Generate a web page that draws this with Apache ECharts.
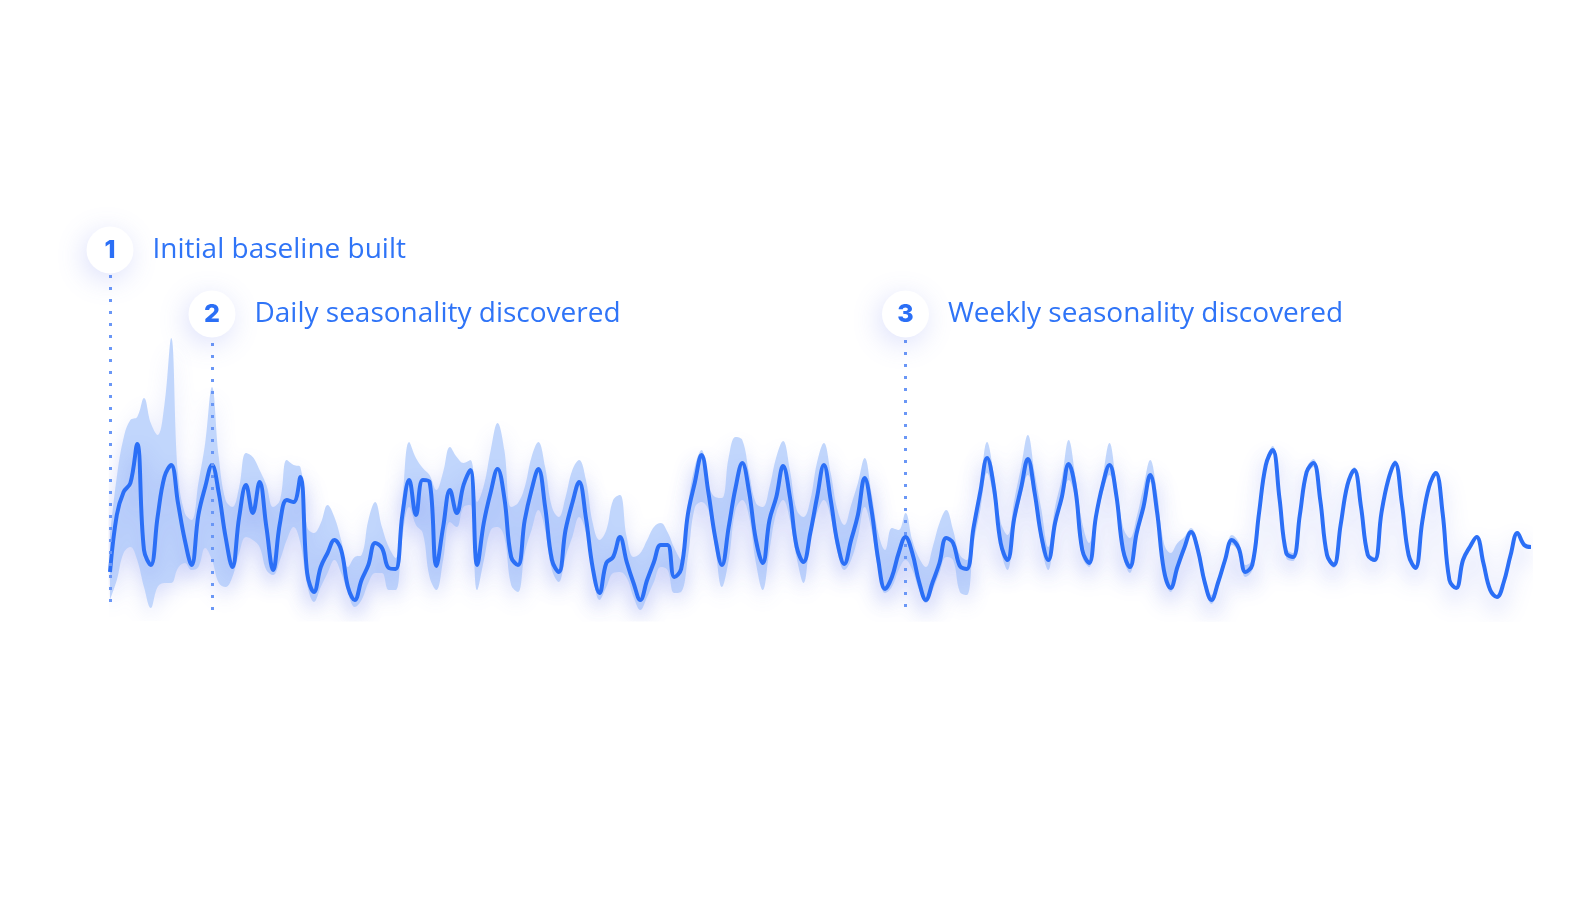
<!DOCTYPE html>
<html>
<head>
<meta charset="utf-8">
<style>
  html, body { margin: 0; padding: 0; background: #ffffff; }
  #chart { width: 1590px; height: 920px; }
</style>
<script src="https://cdn.jsdelivr.net/npm/echarts@6/dist/echarts.min.js"></script>
</head>
<body>
<div id="chart"></div>
<script>
// Observed metric, sampled every 4 hours (6 samples per day)
const observed = [
  48,105,128,137,176,70, 55,103,143,155,117,80, 55,105,133,155,127,83, 53,103,135,107,138,93, 50,97,120,118,143,47, 28,53,67,80,70,33, 20,40,55,77,72,52,
  51,105,140,105,140,138, 54,93,130,107,135,150, 55,98,128,151,122,63, 55,100,130,151,113,60, 48,90,117,138,102,52, 27,57,63,83,58,37, 20,40,58,75,75,43,
  51,106,137,165,128,83, 55,93,132,157,128,80, 57,100,123,154,123,73, 58,87,123,155,120,77, 56,80,105,142,110,60, 31,43,67,83,67,38, 20,38,57,82,77,
  54,51,92,128,162,133, 77,60,102,132,161,127, 83,60,97,123,156,130, 70,57,103,135,155,125, 70,53,87,113,145,108, 50,32,53,72,88,70, 38,20,38,60,80,
  72,48,55,107,155,170, 122,67,63,105,148,157, 120,65,55,95,135,150, 113,65,60,107,140,157, 117,65,52,98,133,147, 107,40,32,60,73,83, 57,30,23,38,65,87, 75,73
];
// Upper edge of the expected band
const bandHigh = [
  85,143,182,200,203,222, 197,185,215,282,147,107, 100,137,177,233,163,120, 113,133,167,163,150,135, 113,120,160,155,153,93, 87,97,115,103,80,53, 63,65,100,118,93,73,
  62,120,178,162,152,145, 130,148,173,163,157,160, 118,135,170,197,170,113, 117,133,163,178,153,113, 103,123,150,160,140,97, 80,90,120,125,83,63, 67,80,93,97,88,72,
  60,115,153,170,137,123, 122,163,183,180,147,117, 113,133,163,179,150,110, 103,120,158,177,147,110, 95,115,137,162,127,87, 70,92,90,107,80,62, 53,73,97,110,90,
  65,60,100,135,178,145, 98,85,120,153,185,147, 110,73,113,142,180,143, 97,77,110,143,177,137, 93,82,103,133,160,127, 77,67,77,83,92,77, 45,25,43,65,85,
  78,55,60,112,160,174, 128,72,67,109,152,161, 125,69,58,98,138,153, 116,68,63,109,142,160, 119,67,53,99,134,149, 108,40,32,60,73,83, 57,30,23,38,65,87, 75,73
];
// Lower edge of the expected band
const bandLow = [
  20,40,67,73,60,33, 12,33,37,37,52,57, 50,53,72,60,37,33, 43,67,83,80,73,50, 45,60,80,93,77,35, 18,33,47,60,47,27, 13,20,37,47,47,30,
  30,83,113,95,87,43, 30,60,98,93,113,115, 30,60,90,93,83,35, 28,67,90,110,90,50, 38,63,83,103,87,47, 20,33,47,48,42,23, 10,23,38,53,50,27,
  28,63,112,118,110,73, 33,60,110,120,103,57, 30,70,107,120,100,62, 37,80,107,120,103,68, 50,60,83,113,90,50, 27,33,50,60,50,30, 17,30,47,63,60,
  28,25,75,110,147,120, 70,50,92,123,145,120, 73,50,92,117,140,120, 63,53,95,127,145,117, 63,47,80,108,138,103, 45,28,48,67,85,65, 33,16,33,55,75,
  68,43,50,102,150,166, 117,62,59,101,144,153, 116,61,52,92,132,147, 111,63,58,105,138,155, 115,63,51,97,132,146, 106,40,32,60,73,83, 57,30,23,38,65,87, 75,73
];
// Annotated milestones: sample index, label
const milestoneIndex = [0, 15, 117];
const milestoneNumber = ['1', '2', '3'];
const milestoneText = ['Initial baseline built', 'Daily seasonality discovered', 'Weekly seasonality discovered'];
const milestoneLevel = [370, 306, 306];
const milestoneLineTop = [345, 277, 280];
const milestoneLineBottom = 10;

const categories = observed.map((_, i) => 'Day ' + (Math.floor(i / 6) + 1) + ' ' + String((i % 6) * 4).padStart(2, '0') + ':00');
const bandSpan = bandHigh.map((h, i) => h - bandLow[i]);

const BLUE = '#2b6ff6';
const TEXT_BLUE = '#2f74f7';

const chart = echarts.init(document.getElementById('chart'), null, { renderer: 'canvas' });

const circlePoints = milestoneIndex.map((idx, k) => ({
  coord: [idx, milestoneLevel[k]],
  symbol: 'circle',
  symbolSize: 47,
  itemStyle: {
    color: '#ffffff',
    shadowColor: 'rgba(90,110,235,0.22)',
    shadowBlur: 28,
    shadowOffsetX: -3,
    shadowOffsetY: 6
  },
  label: {
    show: true,
    position: 'inside',
    formatter: milestoneNumber[k],
    fontFamily: 'Inter, "Open Sans", sans-serif',
    fontWeight: 800,
    fontSize: 25,
    color: BLUE
  }
}));
const textPoints = milestoneIndex.map((idx, k) => ({
  coord: [idx, milestoneLevel[k]],
  symbol: 'circle',
  symbolSize: 47,
  itemStyle: { color: 'rgba(0,0,0,0)' },
  label: {
    show: true,
    position: 'right',
    distance: 19,
    formatter: milestoneText[k],
    fontFamily: '"Open Sans", sans-serif',
    fontSize: 28,
    color: TEXT_BLUE
  }
}));
const dottedLines = milestoneIndex.map((idx, k) => [
  { coord: [idx, milestoneLineTop[k]] },
  { coord: [idx, milestoneLineBottom] }
]);

chart.setOption({
  animation: false,
  backgroundColor: '#ffffff',
  grid: { left: 110, right: 59, top: 0, bottom: 300 },
  xAxis: {
    type: 'category',
    data: categories,
    boundaryGap: false,
    show: false
  },
  yAxis: {
    type: 'value',
    min: 0,
    max: 620,
    show: false
  },
  series: [
    {
      name: 'bandLow',
      type: 'line',
      data: bandLow,
      stack: 'band',
      smooth: 0.4,
      symbol: 'none',
      lineStyle: { opacity: 0 },
      silent: true,
      z: 1
    },
    {
      name: 'band',
      type: 'line',
      data: bandSpan,
      stack: 'band',
      smooth: 0.4,
      symbol: 'none',
      lineStyle: { opacity: 0 },
      areaStyle: {
        color: '#c1d6fc',
        opacity: 1,
        shadowColor: 'rgba(95,115,235,0.2)',
        shadowBlur: 20,
        shadowOffsetY: 10
      },
      silent: true,
      z: 1,
      markLine: {
        silent: true,
        symbol: ['none', 'none'],
        label: { show: false },
        lineStyle: { color: '#6a97f6', width: 3, type: [3, 9], opacity: 1 },
        data: dottedLines
      }
    },
    {
      name: 'observed',
      type: 'line',
      data: observed,
      smooth: 0.4,
      symbol: 'none',
      lineStyle: {
        color: BLUE,
        width: 4,
        shadowColor: 'rgba(70,95,235,0.38)',
        shadowBlur: 22,
        shadowOffsetY: 12
      },
      z: 3,
      markPoint: {
        silent: true,
        data: circlePoints.concat(textPoints)
      }
    }
  ]
});
</script>
</body>
</html>
